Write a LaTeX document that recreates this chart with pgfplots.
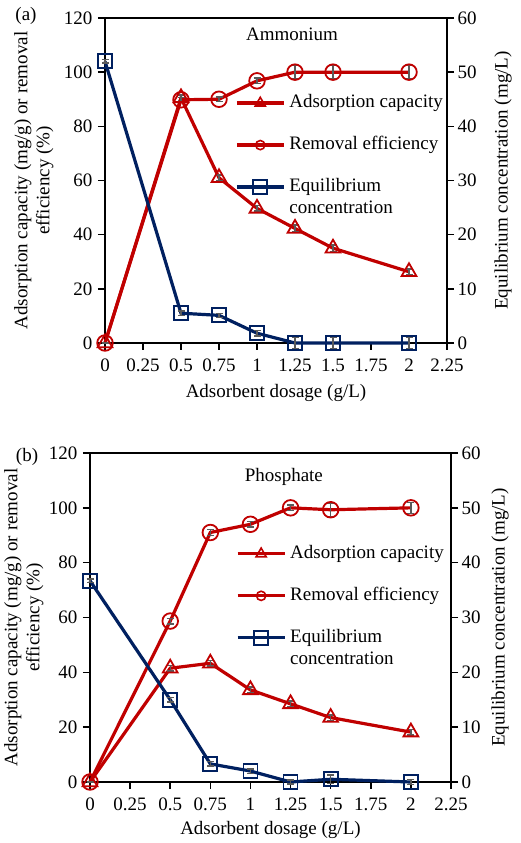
\documentclass[border=0pt]{standalone}
\usepackage{pgfplots}
\usepackage{pgfplotstable}
\pgfplotsset{compat=1.18}
\usepackage{fontspec}
\setmainfont{Liberation Serif}

\definecolor{capred}{HTML}{C00000}
\definecolor{concblue}{HTML}{002060}
\definecolor{errgray}{HTML}{5A5A5A}

% Ammonium: adsorption capacity (mg/g), removal efficiency (%), equilibrium concentration (mg/L)
\pgfplotstableread{
x     cap   capE  rem    remE  conc  concE
0     0     0     0      0     52    0.3
0.5   90.5  1.0   89.8   0.8   5.5   0.4
0.75  61    1.0   90     0.8   5.1   0.4
1     49.7  1.0   96.8   1.0   1.8   0.5
1.25  42.3  1.2   100    2.5   0     1.0
1.5   35    1.2   100    2.5   0     1.0
2     26.3  1.0   100    2.5   0     1.0
}\ammonium

% Phosphate
\pgfplotstableread{
x     cap   capE  rem    remE  conc  concE
0     0     0     0      0     36.7  0.3
0.5   41.5  1.0   58.7   1.0   15.0  0.4
0.75  43.3  1.0   91     1.0   3.3   0.4
1     33.6  1.0   94     1.0   2.0   0.4
1.25  28.5  1.0   100    1.0   0     0.4
1.5   23.5  1.0   99.3   2.5   0.5   0.8
2     18.2  1.0   100    2.0   0     0.5
}\phosphate

\pgfplotsset{
  dosefig/.style={
    scale only axis, clip=false,
    xmin=0, xmax=2.25,
    xtick={0,0.25,0.5,0.75,1,1.25,1.5,1.75,2,2.25},
    font=\fontsize{19}{22}\selectfont,
    /pgf/number format/assume math mode=true,
    tick align=outside,
    major tick length=7pt,
    tick style={black, line width=1.6pt},
    axis line style={black, line width=2.2pt},
    xticklabel style={yshift=-5pt},
    yticklabel style={xshift=-2pt},
  },
  errs/.style={
    error bars/y dir=both, error bars/y explicit,
    error bars/error bar style={errgray, line width=1.4pt},
    error bars/error mark options={errgray, rotate=90, mark size=3.5pt, line width=1.4pt}},
  capstyle/.style={capred, line width=3.2pt, mark=triangle, mark size=8.5pt,
    mark options={line width=1.8pt, fill=none, solid}, errs},
  remstyle/.style={capred, line width=3.2pt, mark=o, mark size=7.8pt,
    mark options={line width=1.8pt, fill=none, solid}, errs},
  concstyle/.style={concblue, line width=3.2pt, mark=square, mark size=7pt,
    mark options={line width=1.8pt, fill=none, solid}, errs},
  leftaxis/.style={dosefig, ymin=0, ymax=120, ytick={0,20,40,60,80,100,120},
    xtick pos=bottom, ytick pos=left,
    xlabel={Adsorbent dosage (g/L)},
    ylabel={Adsorption capacity (mg/g) or removal\\efficiency (\%)},
    ylabel style={align=center, anchor=center}},
  rightaxis/.style={dosefig, ymin=0, ymax=60, ytick={0,10,20,30,40,50,60},
    axis x line=none, axis y line*=right,
    yticklabel style={xshift=2pt},
    ylabel={Equilibrium concentration (mg/L)},
    ylabel style={anchor=center},
    legend cell align=left,
    legend style={draw=none, fill=none, anchor=north west, inner sep=0pt,
      row sep=23pt, column sep=4pt,
      nodes={inner sep=0pt, text height=14pt, text depth=5pt}},
    legend image code/.code={%
      \draw[mark repeat=2, mark phase=2, ##1] plot coordinates {(0pt,0pt) (23.5pt,0pt) (47pt,0pt)};}},
}

\begin{document}
\begin{tikzpicture}[x=1pt, y=1pt, font=\fontsize{19}{22}\selectfont]
\useasboundingbox (0,0) rectangle (521,843);

% ---------------- (a) Ammonium ----------------
\node at (26,827) {(a)};
\begin{axis}[leftaxis, at={(105pt,500pt)}, anchor=south west, width=342pt, height=325pt,
    xlabel style={at={(axis description cs:0.5,-0.154)}, anchor=center},
    ylabel style={at={(axis description cs:-0.208,0.5)}}]
  \addplot[capstyle] table[x=x, y=cap, y error=capE] {\ammonium};
  \addplot[remstyle] table[x=x, y=rem, y error=remE] {\ammonium};
  \node at (rel axis cs:0.547,0.951) {Ammonium};
\end{axis}
\begin{axis}[rightaxis, at={(105pt,500pt)}, anchor=south west, width=342pt, height=325pt,
    ylabel style={at={(axis description cs:1.164,0.5)}},
    legend style={at={(axis description cs:0.380,0.768)}}]
  \addlegendimage{capred, line width=3.2pt, mark=triangle, mark size=5.8pt, mark options={line width=1.6pt, solid}}
  \addlegendimage{capred, line width=3.2pt, mark=o, mark size=4.6pt, mark options={line width=1.6pt, solid}}
  \addplot[concstyle] table[x=x, y=conc, y error=concE] {\ammonium};
  \legend{Adsorption capacity, Removal efficiency, \parbox[t]{5cm}{Equilibrium\\concentration}}
\end{axis}

% ---------------- (b) Phosphate ----------------
\node at (27,386) {(b)};
\begin{axis}[leftaxis, at={(90pt,61pt)}, anchor=south west, width=361pt, height=329pt,
    xlabel style={at={(axis description cs:0.5,-0.146)}, anchor=center},
    ylabel style={at={(axis description cs:-0.183,0.5)}}]
  \addplot[capstyle] table[x=x, y=cap, y error=capE] {\phosphate};
  \addplot[remstyle] table[x=x, y=rem, y error=remE] {\phosphate};
  \node at (rel axis cs:0.537,0.927) {Phosphate};
\end{axis}
\begin{axis}[rightaxis, at={(90pt,61pt)}, anchor=south west, width=361pt, height=329pt,
    ylabel style={at={(axis description cs:1.136,0.5)}},
    legend style={at={(axis description cs:0.404,0.723)}}]
  \addlegendimage{capred, line width=3.2pt, mark=triangle, mark size=5.8pt, mark options={line width=1.6pt, solid}}
  \addlegendimage{capred, line width=3.2pt, mark=o, mark size=4.6pt, mark options={line width=1.6pt, solid}}
  \addplot[concstyle] table[x=x, y=conc, y error=concE] {\phosphate};
  \legend{Adsorption capacity, Removal efficiency, \parbox[t]{5cm}{Equilibrium\\concentration}}
\end{axis}
\end{tikzpicture}
\end{document}
